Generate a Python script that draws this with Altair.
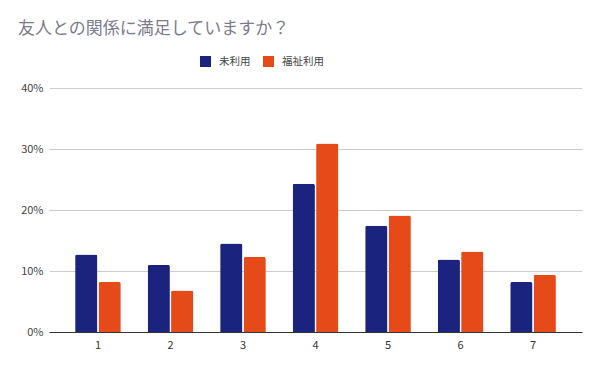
import altair as alt
import pandas as pd

categories = ["1", "2", "3", "4", "5", "6", "7"]
series_names = ["未利用", "福祉利用"]
unused = [12.7, 11.0, 14.5, 24.3, 17.4, 11.9, 8.2]
welfare = [8.2, 6.8, 12.3, 30.9, 19.1, 13.2, 9.4]
colors = ["#1a237e", "#e64a19"]

rows = []
for c, a, b in zip(categories, unused, welfare):
    rows.append({"cat": c, "series": series_names[0], "value": a / 100})
    rows.append({"cat": c, "series": series_names[1], "value": b / 100})
df = pd.DataFrame(rows)

FONT = "Noto Sans CJK JP"

chart = alt.Chart(df).mark_bar(
    cornerRadiusTopLeft=2, cornerRadiusTopRight=2
).encode(
    x=alt.X("cat:N", sort=categories, title=None,
            scale=alt.Scale(paddingInner=0.37, paddingOuter=0.36),
            axis=alt.Axis(labelAngle=0, ticks=False, domainColor="#333333",
                          labelColor="#333333", labelFontSize=11, labelPadding=7,
                          labelFont=FONT)),
    xOffset=alt.XOffset("series:N", sort=series_names,
                        scale=alt.Scale(paddingInner=0.05)),
    y=alt.Y("value:Q", title=None,
            scale=alt.Scale(domain=[0, 0.4]),
            axis=alt.Axis(format=".0%", values=[0, 0.1, 0.2, 0.3, 0.4],
                          ticks=False, domain=False, gridColor="#cccccc",
                          labelColor="#444444", labelFontSize=11, labelPadding=6,
                          labelFont=FONT)),
    color=alt.Color("series:N", sort=series_names,
                    scale=alt.Scale(domain=series_names, range=colors),
                    legend=alt.Legend(title=None, orient="none", direction="horizontal",
                                      legendX=151, legendY=-32, symbolType="square",
                                      symbolSize=121, symbolStrokeWidth=0,
                                      labelOffset=8, labelFontSize=10.5,
                                      labelColor="#444444",
                                      labelFont=FONT, columnPadding=12, padding=0)),
).properties(
    width=533,
    height=244,
    title=alt.TitleParams("友人との関係に満足していますか？", anchor="start",
                          frame="group",
                          font=FONT, fontSize=17, fontWeight="normal",
                          color="#7b7b8c", dx=-31, dy=-14),
    autosize="none",
    padding={"left": 41, "top": 80, "right": 2, "bottom": 28},
).configure_view(stroke=None).configure_axis(grid=True).configure_axisX(grid=False)

chart.save("out.html", embed_options={"renderer": "svg", "actions": False})
